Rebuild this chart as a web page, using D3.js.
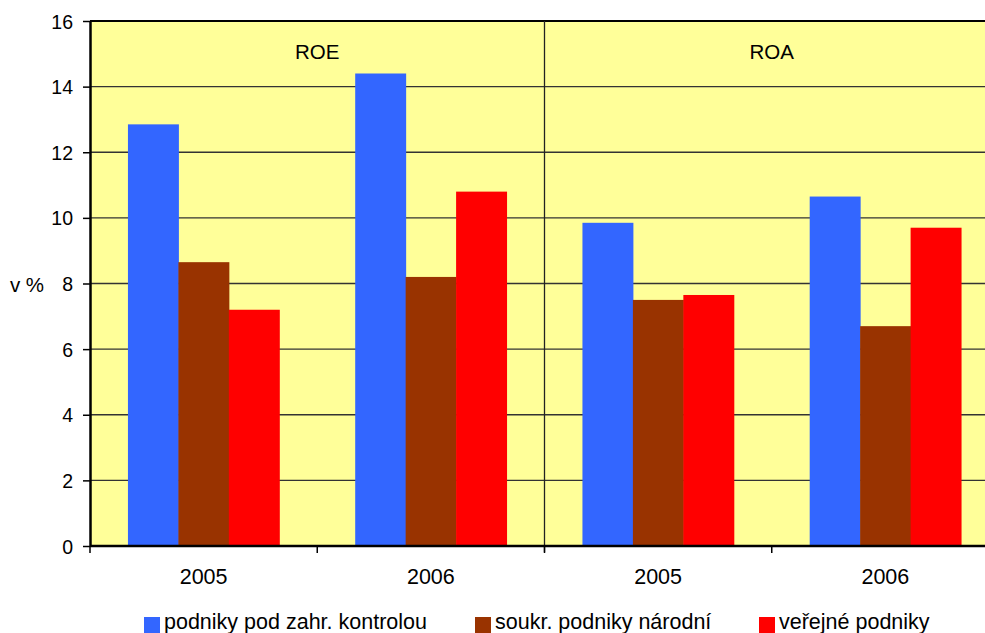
<!DOCTYPE html>
<html>
<head>
<meta charset="utf-8">
<script src="https://cdn.jsdelivr.net/npm/d3@7"></script>
<style>
  body { margin: 0; background: #fff; }
  text { font-family: "Liberation Sans", Arial, sans-serif; fill: #000; }
</style>
</head>
<body>
<script>
// data
var panels = ["ROE", "ROA"],
  years = ["2005", "2006"],
  series = ["podniky pod zahr. kontrolou", "soukr. podniky národní", "veřejné podniky"],
  colors = ["#3366FF", "#993300", "#FF0000"],
  yTicks = [0, 2, 4, 6, 8, 10, 12, 14, 16];

// values per series, order: ROE 2005, ROE 2006, ROA 2005, ROA 2006
var zahranicni = [12.85, 14.4, 9.85, 10.65],
  soukrome = [8.65, 8.2, 7.5, 6.7],
  verejne = [7.2, 10.8, 7.65, 9.7];

var values = [zahranicni, soukrome, verejne];

var width = 985, height = 633,
  plotLeft = 90, plotTop = 21, plotBottom = 546, plotRight = 999;

var cats = [];
panels.forEach(function (p) { years.forEach(function (y) { cats.push(p + "-" + y); }); });

var svg = d3.select("body").append("svg")
  .attr("width", width)
  .attr("height", height);

var y = d3.scaleLinear().domain([0, 16]).range([plotBottom, plotTop]);

var x0 = d3.scaleBand().domain(cats).range([plotLeft, plotRight])
  .paddingInner(0.334).paddingOuter(0.167);

var x1 = d3.scaleBand().domain(d3.range(series.length)).range([0, x0.bandwidth()]);

// plot background
svg.append("rect")
  .attr("x", plotLeft).attr("y", plotTop)
  .attr("width", plotRight - plotLeft).attr("height", plotBottom - plotTop)
  .attr("fill", "#FFFF99");

// gridlines
svg.append("g")
  .selectAll("line")
  .data(yTicks.filter(function (d) { return d > 0 && d < 16; }))
  .enter().append("line")
  .attr("x1", plotLeft).attr("x2", plotRight)
  .attr("y1", function (d) { return y(d); })
  .attr("y2", function (d) { return y(d); })
  .attr("stroke", "#333")
  .attr("stroke-width", 1.3);

// bars
var rows = [];
cats.forEach(function (c, i) {
  series.forEach(function (s, j) {
    rows.push({cat: c, s: j, v: values[j][i]});
  });
});

svg.append("g")
  .selectAll("rect")
  .data(rows)
  .enter().append("rect")
  .attr("x", function (d) { return x0(d.cat) + x1(d.s); })
  .attr("y", function (d) { return y(d.v); })
  .attr("width", x1.bandwidth() + 0.5)
  .attr("height", function (d) { return y(0) - y(d.v); })
  .attr("fill", function (d) { return colors[d.s]; });

// top border
svg.append("line")
  .attr("x1", plotLeft).attr("x2", plotRight)
  .attr("y1", plotTop).attr("y2", plotTop)
  .attr("stroke", "#000").attr("stroke-width", 2);

// panel divider
var divX = x0(cats[2]) - x0.step() * x0.paddingInner() / 2;
svg.append("line")
  .attr("x1", divX).attr("x2", divX)
  .attr("y1", plotTop).attr("y2", plotBottom + 6)
  .attr("stroke", "#222").attr("stroke-width", 1.3);

// panel labels
svg.append("g")
  .selectAll("text")
  .data(panels)
  .enter().append("text")
  .attr("x", function (d, i) { return (x0(cats[i * 2]) + x0(cats[i * 2 + 1]) + x0.bandwidth()) / 2; })
  .attr("y", 59)
  .attr("text-anchor", "middle")
  .attr("font-size", 20.5)
  .text(function (d) { return d; });

// y axis
var yAxis = svg.append("g")
  .attr("transform", "translate(" + plotLeft + ",0)")
  .call(d3.axisLeft(y).tickValues(yTicks).tickSize(7).tickPadding(10).tickSizeOuter(0));
yAxis.select(".domain").attr("stroke-width", 2.5);
yAxis.selectAll(".tick line").attr("stroke-width", 1.5);
yAxis.selectAll("text").attr("font-size", 19.5).attr("dy", "0.36em")
  .style("font-family", "'Liberation Sans', Arial, sans-serif");

// x axis: category boundary ticks
var bounds = d3.range(cats.length + 1).map(function (i) { return plotLeft + i * x0.step(); });
svg.append("line")
  .attr("x1", plotLeft).attr("x2", plotRight)
  .attr("y1", plotBottom).attr("y2", plotBottom)
  .attr("stroke", "#000").attr("stroke-width", 2.5);
svg.append("g")
  .selectAll("line")
  .data(bounds)
  .enter().append("line")
  .attr("x1", function (d) { return d; }).attr("x2", function (d) { return d; })
  .attr("y1", plotBottom).attr("y2", plotBottom + 7)
  .attr("stroke", "#000").attr("stroke-width", 1.5);

svg.append("g")
  .selectAll("text")
  .data(cats)
  .enter().append("text")
  .attr("x", function (d) { return x0(d) + x0.bandwidth() / 2; })
  .attr("y", 584)
  .attr("text-anchor", "middle")
  .attr("font-size", 21.5)
  .text(function (d) { return d.split("-")[1]; });

// y label
svg.append("text")
  .attr("x", 27).attr("y", 292)
  .attr("text-anchor", "middle")
  .attr("font-size", 20.5)
  .text("v %");

// legend
var legX = [144, 475, 759];
var leg = svg.append("g")
  .selectAll("g")
  .data(series)
  .enter().append("g")
  .attr("transform", function (d, i) { return "translate(" + legX[i] + ",617)"; });
leg.append("rect")
  .attr("width", 16).attr("height", 16)
  .attr("fill", function (d, i) { return colors[i]; });
leg.append("text")
  .attr("x", 20).attr("y", 12)
  .attr("font-size", 21.5)
  .text(function (d) { return d; });
</script>
</body>
</html>
